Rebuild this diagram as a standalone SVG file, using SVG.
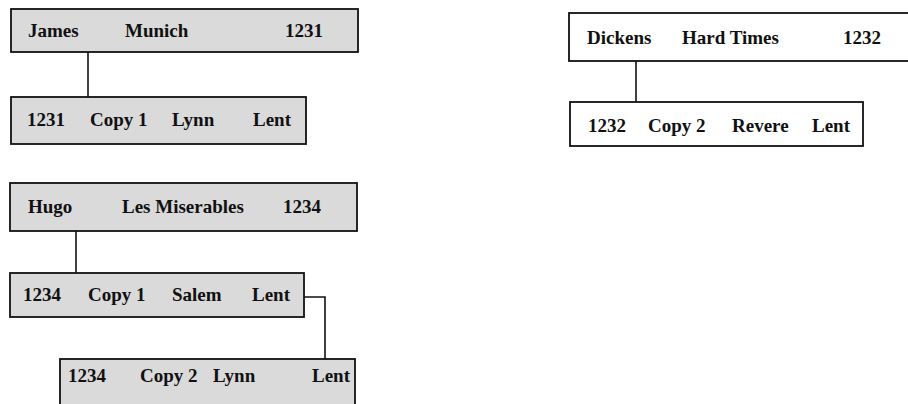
<svg xmlns="http://www.w3.org/2000/svg" width="908" height="404" viewBox="0 0 908 404">
<style>
.box{stroke:#111;stroke-width:1.8}
.g{fill:#dadada}
.w{fill:#ffffff}
text{font-family:"Liberation Serif","Times New Roman",serif;font-size:19px;font-weight:bold;fill:#111}
.c{fill:none;stroke:#111;stroke-width:1.6}
</style>
<rect width="908" height="404" fill="#ffffff"/>
<g id="connectors">
<line class="c" x1="88" y1="52" x2="88" y2="97"/>
<line class="c" x1="636" y1="61" x2="636" y2="102"/>
<line class="c" x1="76" y1="231" x2="76" y2="273"/>
<polyline class="c" points="304,297 325,297 325,359"/>
</g>
<g id="james">
<rect class="box g" x="11" y="9" width="347" height="43"/>
<text x="28" y="37">James</text><text x="125" y="37">Munich</text><text x="285" y="37">1231</text>
</g>
<g id="james-copy1">
<rect class="box g" x="11" y="97" width="295" height="47"/>
<text x="27" y="126">1231</text><text x="90" y="126">Copy 1</text><text x="172" y="126">Lynn</text><text x="253" y="126">Lent</text>
</g>
<g id="dickens">
<rect class="box w" x="569" y="13" width="345" height="48"/>
<text x="587" y="44">Dickens</text><text x="682" y="44">Hard Times</text><text x="843" y="44">1232</text>
</g>
<g id="dickens-copy2">
<rect class="box w" x="570" y="102" width="293" height="44"/>
<text x="588" y="132">1232</text><text x="648" y="132">Copy 2</text><text x="732" y="132">Revere</text><text x="812" y="132">Lent</text>
</g>
<g id="hugo">
<rect class="box g" x="10" y="183" width="347" height="48"/>
<text x="28" y="213">Hugo</text><text x="122" y="213">Les Miserables</text><text x="283" y="213">1234</text>
</g>
<g id="hugo-copy1">
<rect class="box g" x="10" y="273" width="294" height="44"/>
<text x="23" y="301">1234</text><text x="88" y="301">Copy 1</text><text x="172" y="301">Salem</text><text x="252" y="301">Lent</text>
</g>
<g id="hugo-copy2">
<rect class="box g" x="60" y="359" width="295" height="52"/>
<text x="68" y="382">1234</text><text x="140" y="382">Copy 2</text><text x="213" y="382">Lynn</text><text x="312" y="382">Lent</text>
</g>
</svg>
